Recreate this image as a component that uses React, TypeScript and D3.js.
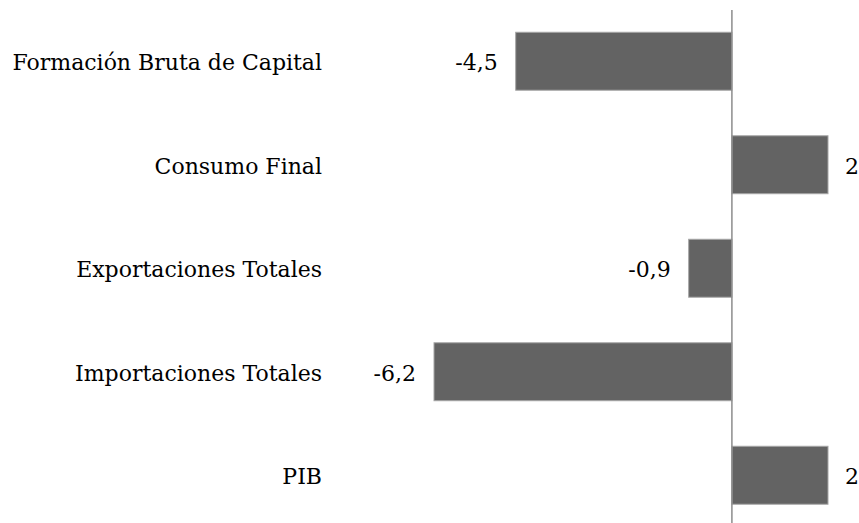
import React, { useEffect, useRef } from "react";
import * as d3 from "d3";

const categories: string[] = [
  "Formación Bruta de Capital",
  "Consumo Final",
  "Exportaciones Totales",
  "Importaciones Totales",
  "PIB",
];
const values: number[] = [-4.5, 2, -0.9, -6.2, 2];

const locale = d3.formatLocale({
  decimal: ",",
  thousands: ".",
  grouping: [3],
  currency: ["", ""],
  minus: "-",
});
const fmt = (v: number) => locale.format("~g")(v);

const App: React.FC = () => {
  const svgRef = useRef<SVGSVGElement>(null);
  const width = 859;
  const height = 523;

  useEffect(() => {
    if (!svgRef.current) return;
    const svg = d3.select(svgRef.current);
    svg.selectAll("*").remove();

    const font = "'DejaVu Serif', serif";

    // Scales
    const x = d3.scaleLinear().domain([-6.2, 2]).range([434, 828]);
    const y = d3
      .scaleBand<string>()
      .domain(categories)
      .range([9.5, 527])
      .paddingInner(0.44)
      .paddingOuter(0.22);

    // Bars
    svg
      .selectAll(".bar")
      .data(categories)
      .enter()
      .append("rect")
      .attr("class", "bar")
      .attr("x", (_, i) => Math.min(x(0), x(values[i])))
      .attr("y", (d) => y(d)!)
      .attr("width", (_, i) => Math.abs(x(values[i]) - x(0)))
      .attr("height", y.bandwidth())
      .attr("fill", "#636363")
      .attr("stroke", "#a6a6a6")
      .attr("stroke-width", 1);

    // Zero axis line
    svg
      .append("line")
      .attr("x1", x(0))
      .attr("x2", x(0))
      .attr("y1", 10)
      .attr("y2", height)
      .attr("stroke", "#8c8c8c")
      .attr("stroke-width", 1.5);

    // Category labels
    svg
      .selectAll(".cat")
      .data(categories)
      .enter()
      .append("text")
      .attr("class", "cat")
      .attr("x", 322)
      .attr("y", (d) => y(d)! + y.bandwidth() / 2)
      .attr("dy", "0.4em")
      .attr("text-anchor", "end")
      .style("font-family", font)
      .style("font-size", "22px")
      .style("fill", "#000")
      .text((d) => d);

    // Value labels
    svg
      .selectAll(".val")
      .data(categories)
      .enter()
      .append("text")
      .attr("class", "val")
      .attr("x", (_, i) => (values[i] < 0 ? x(values[i]) - 18 : x(values[i]) + 17))
      .attr("y", (d) => y(d)! + y.bandwidth() / 2)
      .attr("dy", "0.4em")
      .attr("text-anchor", (_, i) => (values[i] < 0 ? "end" : "start"))
      .style("font-family", font)
      .style("font-size", "22px")
      .style("fill", "#000")
      .text((_, i) => fmt(values[i]));
  }, []);

  return (
    <div style={{ position: "absolute", left: 0, top: 0, background: "#fff" }}>
      <svg ref={svgRef} width={width} height={height} style={{ display: "block" }} />
    </div>
  );
};

export default App;
